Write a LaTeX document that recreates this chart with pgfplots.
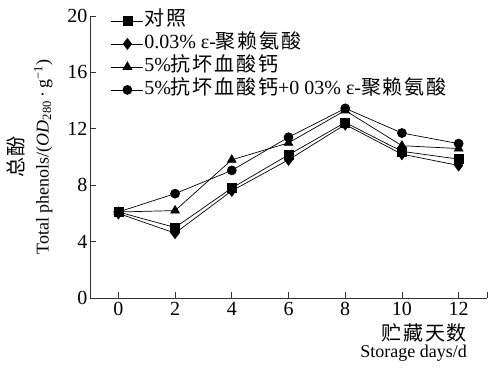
\documentclass[border=0pt]{standalone}
\usepackage{fontspec}
\setmainfont{Liberation Serif}
\newfontfamily\cjk[LetterSpace=9]{Noto Sans CJK SC}
\usepackage{pgfplots}
\pgfplotsset{compat=1.18}
\newcommand\fs{\fontsize{20}{22}\selectfont}
\newcommand\xlfont{\fontsize{18}{17}\selectfont\lineskiplimit=-20pt\relax}
\begin{document}
\begin{tikzpicture}
\useasboundingbox (-90pt,-71pt) rectangle (400pt,298pt);
\begin{axis}[
  scale only axis, width=397pt, height=282pt,
  at={(0,0)}, anchor=south west,
  xmin=-1, xmax=13, ymin=0, ymax=20,
  axis lines=left, axis line style={-, line width=0.9pt, black!80},
  xtick={0,2,...,12}, ytick={0,4,...,20},
  extra x ticks={13}, extra x tick labels={},
  tick align=inside, major tick length=6pt,
  tick style={line width=0.8pt, black!80},
  /pgf/number format/assume math mode=true,
  tick label style={font=\fs},
  xticklabel style={yshift=-1pt},
  yticklabel style={xshift=1pt},
  ylabel={{\cjk\fontsize{20}{25}\selectfont 总酚}\\Total phenols/(\textit{OD}\textsubscript{280}\,·\,g\textsuperscript{\char"2212 1})},
  ylabel style={font=\fontsize{18}{25}\selectfont, align=center, at={(axis description cs:-0.152,0.5)}, anchor=center, rotate=0},
  xlabel={{\cjk\fontsize{20}{17}\selectfont 贮藏天数}\\Storage days/d},
  xlabel style={font=\xlfont, align=right, inner sep=0pt, at={(axis description cs:0.95,-0.09)}, anchor=north east},
  legend style={draw=none, fill=none, font=\fs, at={(axis description cs:0.045,1.025)}, anchor=north west,
    nodes={inner sep=0.5pt, text height=14pt, text depth=4.5pt}, row sep=3.5pt},
  legend cell align=left,
  legend image code/.code={\draw[mark repeat=2,mark phase=2,#1] plot coordinates {(0pt,0pt)(16pt,0pt)(32pt,0pt)};},
  every axis plot/.append style={black, line width=0.7pt, mark options={solid, fill=black}},
]
\addplot[mark=square*, mark size=4.5pt] coordinates {(0,6.1)(2,5.0)(4,7.8)(6,10.15)(8,12.45)(10,10.4)(12,9.85)};
\addlegendentry{{\cjk 对照}}
\addplot[mark=diamond*, mark size=5.5pt] coordinates {(0,6.0)(2,4.6)(4,7.6)(6,9.8)(8,12.3)(10,10.2)(12,9.4)};
\addlegendentry{0.03\% ε-{\cjk 聚赖氨酸}}
\addplot[mark=triangle*, mark size=5pt] coordinates {(0,6.1)(2,6.2)(4,9.8)(6,11.0)(8,13.3)(10,10.8)(12,10.6)};
\addlegendentry{5\%{\cjk 抗坏血酸钙}}
\addplot[mark=*, mark size=4.5pt] coordinates {(0,6.1)(2,7.4)(4,9.05)(6,11.4)(8,13.45)(10,11.7)(12,10.95)};
\addlegendentry{5\%{\cjk 抗坏血酸钙}+0 03\% ε-{\cjk 聚赖氨酸}}
\end{axis}
\end{tikzpicture}
\end{document}
